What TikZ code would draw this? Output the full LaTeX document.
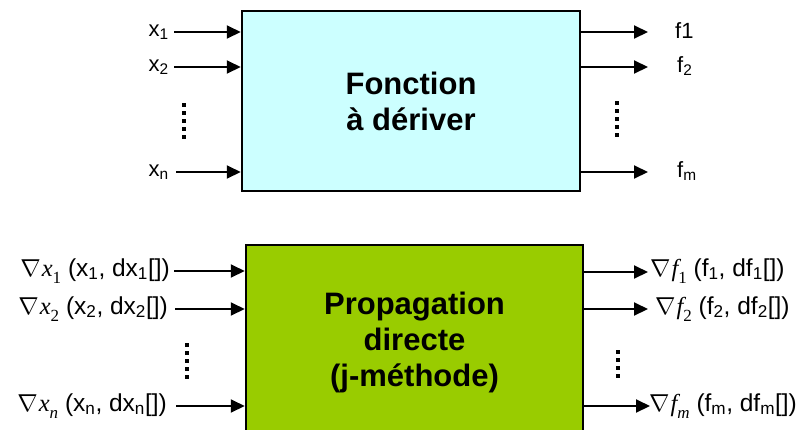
\documentclass[tikz,border=0pt]{standalone}
\usepackage{fix-cm}
\usepackage{fontspec}
\setmainfont{Liberation Sans}
\newfontfamily\tms{Liberation Serif}
\usetikzlibrary{arrows.meta}
\definecolor{boxcyan}{HTML}{CCFFFF}
\definecolor{boxgreen}{HTML}{99CC00}
\newcommand\gvar[2]{$\nabla$\kern1pt{\tms\itshape #1}\raisebox{-0.3em}{\tms\fontsize{17}{17}\selectfont #2}}
\begin{document}
\begin{tikzpicture}[x=1pt,y=-1pt,
  box/.style={draw=black, line width=2.5pt, inner sep=0pt, align=center,
    font=\fontsize{31}{36}\selectfont\bfseries},
  conn/.style={line width=2pt, -{Triangle[length=14pt,width=13pt]}},
  lab/.style={font=\fontsize{22}{26}\selectfont, inner sep=3pt},
  glab/.style={font=\fontsize{24.5}{28}\selectfont, inner sep=3pt},
  vdots/.style={line width=3.5pt, dash pattern=on 4pt off 4pt}]
\useasboundingbox (0,0) rectangle (811,429);

% top block
\node[box, fill=boxcyan, minimum width=338pt, minimum height=180pt] (F) at (411,101) {Fonction\\à dériver};

\node[lab, anchor=east] (x1) at (172,32) {x\textsubscript{1}};
\node[lab, anchor=east] (x2) at (172,67) {x\textsubscript{2}};
\node[lab, anchor=east] (xn) at (172,172) {x\textsubscript{n}};
\draw[conn] (x1.east) ++(2,0) -- (F.west |- x1.east);
\draw[conn] (x2.east) ++(2,0) -- (F.west |- x2.east);
\draw[conn] (xn.east) ++(4,0) -- (F.west |- xn.east);

\coordinate (e1) at (648,32);
\coordinate (e2) at (648,67);
\coordinate (em) at (648,172);
\node[lab, anchor=west] (f1) at (672,31) {f1};
\node[lab, anchor=west] (f2) at (674,66) {f\textsubscript{2}};
\node[lab, anchor=west] (fm) at (674,171) {f\textsubscript{m}};
\draw[conn] (F.east |- e1) -- (e1);
\draw[conn] (F.east |- e2) -- (e2);
\draw[conn] (F.east |- em) -- (em);

\coordinate (dl1) at (184,103);
\coordinate (dl2) at (184,139);
\coordinate (dr1) at (617,101);
\coordinate (dr2) at (617,139);
\draw[vdots] (dl1) -- (dl2);
\draw[vdots] (dr1) -- (dr2);

% bottom block
\node[box, fill=boxgreen, minimum width=337pt, minimum height=195pt] (G) at (414.5,342.5) {Propagation\\directe\\(j-méthode)};

\node[glab, anchor=east] (gx1) at (173,271) {\gvar{x}{1} (x\textsubscript{1}, dx\textsubscript{1}[])};
\node[glab, anchor=east] (gx2) at (171,309) {\gvar{x}{2} (x\textsubscript{2}, dx\textsubscript{2}[])};
\node[glab, anchor=east] (gxn) at (170,406) {\gvar{x}{\itshape n} (x\textsubscript{n}, dx\textsubscript{n}[])};
\draw[conn] (gx1.east) ++(1,0) -- (G.west |- gx1.east);
\draw[conn] (gx2.east) ++(4,0) -- (G.west |- gx2.east);
\draw[conn] (gxn.east) ++(6,0) -- (G.west |- gxn.east);

\coordinate (g1) at (648,272);
\coordinate (g2) at (648,309);
\coordinate (gm) at (650,406);
\node[glab, anchor=west] (gf1) at (647,271) {\gvar{f}{1} (f\textsubscript{1}, df\textsubscript{1}[])};
\node[glab, anchor=west] (gf2) at (652,309) {\gvar{f}{2} (f\textsubscript{2}, df\textsubscript{2}[])};
\node[glab, anchor=west] (gfm) at (646,406) {\gvar{f}{\itshape m} (f\textsubscript{m}, df\textsubscript{m}[])};
\draw[conn] (G.east |- g1) -- (g1);
\draw[conn] (G.east |- g2) -- (g2);
\draw[conn] (G.east |- gm) -- (gm);

\coordinate (bl1) at (187,343);
\coordinate (bl2) at (187,379);
\coordinate (br1) at (618,350);
\coordinate (br2) at (618,379);
\draw[vdots] (bl1) -- (bl2);
\draw[vdots] (br1) -- (br2);
\end{tikzpicture}
\end{document}
